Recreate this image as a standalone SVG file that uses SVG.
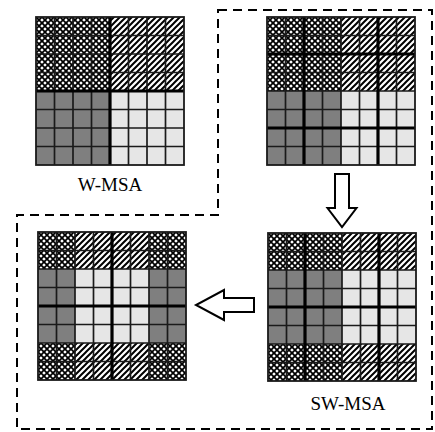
<svg xmlns="http://www.w3.org/2000/svg" width="435" height="432" viewBox="0 0 435 432">
  <style>
    .cross { fill: url(#crosshatch); }
    .diag { fill: url(#diagonal); }
    .dark { fill: #7f7f7f; }
    .light { fill: #e6e6e6; }
    .thin { fill: none; stroke: #1a1a1a; stroke-width: 1.7; }
    .thick { fill: none; stroke: #000; stroke-width: 3.2; }
    .frame { fill: none; stroke: #1a1a1a; stroke-width: 1.8; }
    .region { fill: none; stroke: #000; stroke-width: 2; stroke-dasharray: 9 6; }
    .arrow { fill: #fff; stroke: #000; stroke-width: 2; stroke-linejoin: miter; }
    .label { font-family: "Liberation Serif", "Times New Roman", serif; font-size: 19px; fill: #000; text-anchor: middle; }
  </style>
  <defs>
    <!-- diagonal cross-hatch: black lattice with white diamonds -->
    <pattern id="crosshatch" patternUnits="userSpaceOnUse" width="6" height="6">
      <rect width="6" height="6" fill="#fff"/>
      <path d="M-1,-1 L7,7 M7,-1 L-1,7" stroke="#000" stroke-width="1.75"/>
    </pattern>
    <!-- single "/" hatch -->
    <pattern id="diagonal" patternUnits="userSpaceOnUse" width="6" height="6">
      <rect width="6" height="6" fill="#fff"/>
      <path d="M-1,7 L7,-1 M-1,1 L1,-1 M5,7 L7,5" stroke="#000" stroke-width="2"/>
    </pattern>
    <!-- 8 x 8 cell lines, cell = 18.5 -->
    <path id="cells" class="thin" d="M18.5,0V148M37,0V148M55.5,0V148M74,0V148M92.5,0V148M111,0V148M129.5,0V148M0,18.5H148M0,37H148M0,55.5H148M0,74H148M0,92.5H148M0,111H148M0,129.5H148"/>
  </defs>

  <!-- regular window partition -->
  <g id="w-msa" transform="translate(36,17)">
    <rect class="cross" x="0" y="0" width="74" height="74"/>
    <rect class="diag" x="74" y="0" width="74" height="74"/>
    <rect class="dark" x="0" y="74" width="74" height="74"/>
    <rect class="light" x="74" y="74" width="74" height="74"/>
    <use href="#cells"/>
    <path class="thick" d="M74,0V148M0,74H148"/>
    <rect class="frame" x="0" y="0" width="148" height="148"/>
  </g>

  <!-- shifted window partition -->
  <g id="sw-partition" transform="translate(267,17)">
    <rect class="cross" x="0" y="0" width="74" height="74"/>
    <rect class="diag" x="74" y="0" width="74" height="74"/>
    <rect class="dark" x="0" y="74" width="74" height="74"/>
    <rect class="light" x="74" y="74" width="74" height="74"/>
    <use href="#cells"/>
    <path class="thick" d="M37,0V148M111,0V148M0,37H148M0,111H148"/>
    <rect class="frame" x="0" y="0" width="148" height="148"/>
  </g>

  <!-- rows cyclically shifted -->
  <g id="row-shift" transform="translate(268,233)">
    <rect class="cross" x="0" y="0" width="74" height="37"/>
    <rect class="cross" x="0" y="111" width="74" height="37"/>
    <rect class="diag" x="74" y="0" width="74" height="37"/>
    <rect class="diag" x="74" y="111" width="74" height="37"/>
    <rect class="dark" x="0" y="37" width="74" height="74"/>
    <rect class="light" x="74" y="37" width="74" height="74"/>
    <use href="#cells"/>
    <path class="thick" d="M37,0V148M111,0V148M0,74H148"/>
    <rect class="frame" x="0" y="0" width="148" height="148"/>
  </g>

  <!-- rows and columns cyclically shifted -->
  <g id="full-shift" transform="translate(38,232)">
    <rect class="cross" x="0" y="0" width="37" height="37"/>
    <rect class="cross" x="111" y="0" width="37" height="37"/>
    <rect class="cross" x="0" y="111" width="37" height="37"/>
    <rect class="cross" x="111" y="111" width="37" height="37"/>
    <rect class="diag" x="37" y="0" width="74" height="37"/>
    <rect class="diag" x="37" y="111" width="74" height="37"/>
    <rect class="dark" x="0" y="37" width="37" height="74"/>
    <rect class="dark" x="111" y="37" width="37" height="74"/>
    <rect class="light" x="37" y="37" width="74" height="74"/>
    <use href="#cells"/>
    <path class="thick" d="M74,0V148M0,74H148"/>
    <rect class="frame" x="0" y="0" width="148" height="148"/>
  </g>

  <g id="connectors">
    <!-- dashed outline of the SW-MSA group -->
    <path class="region" d="M218,10 H432 V429 H17 V215 H218 Z"/>
    <!-- hollow block arrows -->
    <polygon class="arrow" points="335,174 349,174 349,208 356.5,208 342,227 327.5,208 335,208"/>
    <polygon class="arrow" points="254,298 224,298 224,290 196,305 224,320 224,312 254,312"/>
  </g>

  <text class="label" x="110" y="191" font-family="Liberation Serif, Times New Roman, serif">W-MSA</text>
  <text class="label" x="348" y="410" font-family="Liberation Serif, Times New Roman, serif">SW-MSA</text>
</svg>
